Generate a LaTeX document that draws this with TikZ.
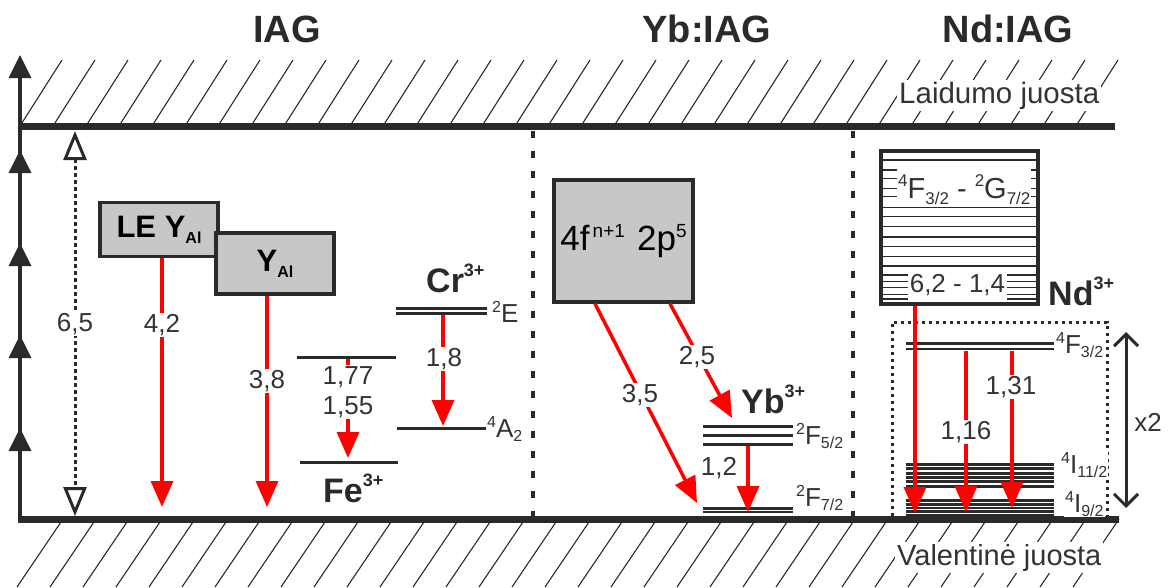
\documentclass[tikz,border=0pt]{standalone}
\usepackage{fontspec}
\setmainfont{Liberation Sans}
\usetikzlibrary{arrows.meta}
\definecolor{ink}{HTML}{2A2A2A}
\definecolor{boxgray}{HTML}{C6C8C8}
\definecolor{txt}{HTML}{333333}
\newcommand\fsz[1]{\fontsize{#1}{#1}\selectfont}
\newcommand\upx[3]{\raisebox{#2}{\fsz{#1}#3}}
\newcommand\lsup[1]{\upx{16}{10pt}{#1}}
\newcommand\lsub[1]{\upx{16}{-4pt}{#1}}
\newcommand\isup[1]{\upx{18}{16pt}{#1}}
\begin{document}
\begin{tikzpicture}[x=1pt,y=-1pt,
  bandline/.style={ink, line width=7pt},
  hatch/.style={ink, line width=1.1pt},
  lvl/.style={ink, line width=3pt},
  redarrow/.style={red, line width=3.5pt, -{Triangle[width=22pt,length=26pt]}},
  num/.style={fill=white, text=txt, font=\fsz{26}, inner sep=1.5pt},
  ttl/.style={font=\bfseries\fsz{38}, text=ink, anchor=base},
  ion/.style={font=\bfseries\fsz{34}, text=ink, anchor=base west, inner sep=1pt},
  lab/.style={font=\fsz{26}, text=txt, fill=white, inner sep=1pt, anchor=base west},
  gbox/.style={draw=ink, fill=boxgray, line width=3.5pt, inner sep=0pt},
  sepline/.style={ink, line width=3.5pt, dash pattern=on 7pt off 13pt},
  dotl/.style={ink, line width=3pt, dash pattern=on 3.3pt off 3.7pt},
]
\useasboundingbox (0,0) rectangle (1176,587);

% hatching of the bands
\foreach \k in {0,...,32} \draw[hatch] (20+33*\k,126) -- (62+33*\k,60);
\foreach \k in {0,...,32} \draw[hatch] (63+33*\k,519) -- (17+33*\k,587);

% band edges
\draw[bandline] (18,126) -- (1115,126);
\draw[bandline] (18,519) -- (1119,519);

\node[font=\fsz{29.5}, text=txt, fill=white, inner sep=2pt, anchor=base west] (cb) at (897,103) {Laidumo juosta};
\node[font=\fsz{29}, text=txt, fill=white, inner sep=2pt, anchor=base west] (vb) at (895,565) {Valentinė juosta};

% energy axis
\draw[ink, line width=4pt] (20,521) -- (20,70);
\foreach \t in {55,150,243,335,428} \fill[ink] (20,\t) -- (31.5,\t+23) -- (8.5,\t+23) -- cycle;

% titles
\node[ttl] (t1) at (287,42) {IAG};
\node[ttl] (t2) at (707,42) {Yb:IAG};
\node[ttl] (t3) at (1008,42) {Nd:IAG};

% separators
\draw[sepline] (533,131) -- (533,516);
\draw[sepline] (853,131) -- (853,516);

% band gap
\coordinate (d-top) at (75,131);
\coordinate (d-bot) at (75,516);
\draw[dotl, {Triangle[width=23pt,length=29pt,fill=white]}-{Triangle[width=23pt,length=29pt,fill=white]}] (d-top) -- (d-bot);
\node[num] (n65) at (75,324) {6,5};

% Y_Al boxes
\node[gbox, minimum width=118pt, minimum height=54pt] (le) at (159,229.7) {\bfseries\fsz{31}LE Y\upx{16}{-6pt}{Al}};
\node[gbox, minimum width=118pt, minimum height=61pt] (yal) at (275,263.4) {\bfseries\fsz{31}Y\upx{16}{-6pt}{Al}};
\coordinate (le-tip) at (162,507);
\coordinate (yal-tip) at (267,507);
\draw[redarrow] (le.south -| le-tip) -- (le-tip);
\draw[redarrow] (yal.south -| yal-tip) -- (yal-tip);
\node[num] (n42) at (162,325) {4,2};
\node[num] (n38) at (267,381) {3,8};

% Fe3+
\draw[lvl] (297,357) -- (396,357);
\draw[lvl] (300,462) -- (398,462);
\coordinate (fe-top) at (348,358.5);
\coordinate (fe-tip) at (348,458);
\draw[redarrow] (fe-top) -- (fe-tip);
\node[num, align=center, font=\fontsize{26}{30}\selectfont] (nfe) at (348,392) {1,77\\1,55};
\node[ion] (fe) at (322,502) {Fe\isup{3+}};

% Cr3+
\draw[lvl] (396,308) -- (487,308);
\draw[lvl] (396,313.5) -- (487,313.5);
\draw[lvl] (397,428) -- (487,428);
\coordinate (cr-top) at (443,315);
\coordinate (cr-tip) at (443,426);
\draw[redarrow] (cr-top) -- (cr-tip);
\node[num] (n18) at (444,359) {1,8};
\node[ion] (cr) at (425,292) {Cr\isup{3+}};
\node[lab] (l2e) at (491,322) {\lsup{2}E};
\node[lab] (l4a) at (486,437) {\lsup{4}A\lsub{2}};

% Yb
\node[gbox, minimum width=139pt, minimum height=122pt] (yb) at (623.5,241) {\fsz{35}4f\upx{19}{13pt}{\,n+1}\hspace{0.35em}2p\upx{19}{13pt}{5}};
\foreach \y in {426,435,444.3} \draw[lvl] (703,\y) -- (793,\y);
\draw[ink, line width=2.4pt] (703,508.5) -- (793,508.5);
\draw[ink, line width=2.4pt] (703,512) -- (793,512);
\coordinate (a35-tip) at (697,503);
\coordinate (a25-tip) at (732,418);
\draw[redarrow] ([xshift=42.75pt]yb.south west) -- (a35-tip);
\draw[redarrow] ([xshift=117.75pt]yb.south west) -- (a25-tip);
\coordinate (y12-top) at (748,446);
\coordinate (y12-tip) at (748,512);
\draw[redarrow] (y12-top) -- (y12-tip);
\node[num] (n35) at (640,395) {3,5};
\node[num] (n25) at (697,357) {2,5};
\node[num] (n12) at (719,468) {1,2};
\node[ion] (ybion) at (740,413) {Yb\isup{3+}};
\node[lab] (lf52) at (795,444) {\lsup{2}F\lsub{5/2}};
\node[lab] (lf72) at (795,506) {\lsup{2}F\lsub{7/2}};

% Nd excited manifold box
\foreach \y in {160,170,178.3,188.3,196.7,207.7,216.7,226.7,246.7,256.7,275,281.7,287.7,294.3,299} \draw[ink, line width=1.4pt] (882,\y) -- (1037,\y);
\foreach \y in {236.7,265.7} \draw[ink, line width=2.2pt] (882,\y) -- (1037,\y);
\node[fill=white, inner xsep=1pt, inner ysep=0pt, text height=30pt, text depth=6pt, anchor=base west, font=\fsz{29}, text=txt] (ndt1) at (897,198) {\upx{17}{12pt}{4}F\upx{17}{-6pt}{3/2} - \upx{17}{12pt}{2}G\upx{17}{-6pt}{7/2}};
\node[fill=white, inner xsep=2pt, inner ysep=0pt, text height=20pt, text depth=8pt, anchor=base, font=\fsz{26}, text=txt] (ndt2) at (957.5,292) {6,2 - 1,4};
\node[draw=ink, line width=3.5pt, minimum width=157pt, minimum height=153pt, inner sep=0pt] (ndbox) at (959.5,227.5) {};
\node[ion] (ndion) at (1047,305) {Nd\isup{3+}};

% Nd levels
\draw[dotl] (892,516) -- (892,322) -- (1107,322) -- (1107,516);
\draw[ink, line width=2.8pt] (906,343.5) -- (1054,343.5);
\draw[ink, line width=2.8pt] (906,349) -- (1054,349);
\foreach \y in {464.5,468.8,473.1,477.4,481.7,486} \draw[ink, line width=3pt] (906,\y) -- (1054,\y);
\foreach \y in {500.5,504.2,507.9,511.6,515.3} \draw[ink, line width=2.7pt] (906,\y) -- (1054,\y);
\coordinate (nd-tip) at (915,513);
\draw[redarrow] (ndbox.south -| nd-tip) -- (nd-tip);
\coordinate (n116-top) at (966,350.5);
\coordinate (n116-tip) at (966,512);
\coordinate (n131-top) at (1012,350.5);
\coordinate (n131-tip) at (1012,508);
\draw[redarrow] (n116-top) -- (n116-tip);
\draw[redarrow] (n131-top) -- (n131-tip);
\node[num] (n116) at (966,432) {1,16};
\node[num] (n131) at (1011,387) {1,31};
\node[lab] (lf32) at (1055,353) {\lsup{4}F\lsub{3/2}};
\node[lab] (li112) at (1060,473) {\lsup{4}I\lsub{11/2}};
\node[lab] (li92) at (1064,512) {\lsup{4}I\lsub{9/2}};

% x2 range
\coordinate (x2-top) at (1126,332);
\coordinate (x2-bot) at (1126,508);
\draw[ink, line width=3pt, {Straight Barb[width=24pt,length=12pt]}-{Straight Barb[width=24pt,length=12pt]}] (x2-top) -- (x2-bot);
\node[num, font=\fsz{26}] (nx2) at (1148,422) {x2};
\end{tikzpicture}
\end{document}
